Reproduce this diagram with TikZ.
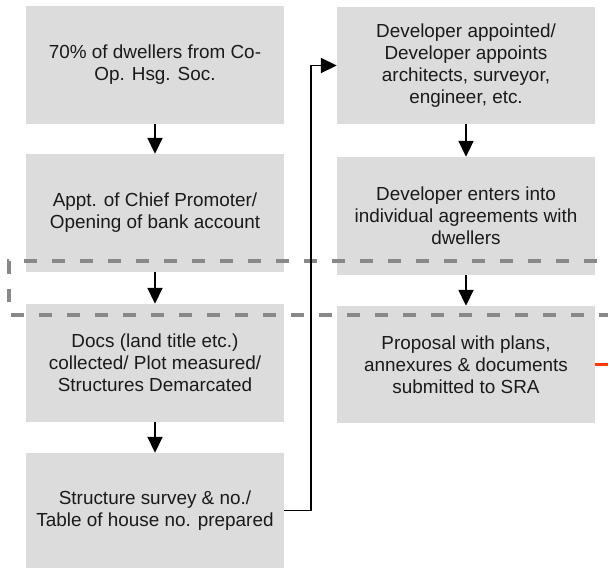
\documentclass[tikz,border=0pt]{standalone}
\usepackage{fontspec}
\setmainfont{Liberation Sans}
\usetikzlibrary{arrows.meta}
\definecolor{boxgray}{HTML}{DCDCDC}
\definecolor{txtcol}{HTML}{1A1A1A}
\definecolor{dashgray}{HTML}{888888}
\definecolor{redline}{RGB}{255,60,0}
\begin{document}
\begin{tikzpicture}[x=1pt,y=-1pt,
  stepbox/.style={fill=boxgray, draw=none, text=txtcol, align=center,
    minimum width=258pt, minimum height=118pt, inner sep=0pt,
    font=\fontsize{18.9}{22}\selectfont},
  flow/.style={line width=1.8pt, -{Triangle[length=16pt,width=15pt]}},
  sect/.style={draw=dashgray, line width=4pt, dash pattern=on 13pt off 15pt, dash phase=17pt},
  redconn/.style={draw=redline, line width=3.5pt}]
\useasboundingbox[fill=white] (0,0) rectangle (608,570);
% left column
\node[stepbox] (L1) at (155,65) {70\% of dwellers from Co-\\Op. Hsg. Soc.};
\node[stepbox] (L2) at (155,213) {Appt. of Chief Promoter/\\Opening of bank account};
\node[stepbox] (L3) at (155,363) {Docs (land title etc.)\\collected/ Plot measured/\\Structures Demarcated};
\node[stepbox, minimum height=115pt] (L4) at (155,510.5) {Structure survey \& no./\\Table of house no. prepared};
% right column
\node[stepbox, minimum height=117pt] (R1) at (466,65.5) {Developer appointed/\\Developer appoints\\architects, surveyor,\\engineer, etc.};
\node[stepbox] (R2) at (466,216) {Developer enters into\\individual agreements with\\dwellers};
\node[stepbox, minimum height=117pt] (R3) at (466,364.5) {Proposal with plans,\\annexures \& documents\\submitted to SRA};
% dashed section boundary
\coordinate (dA) at (608,261);
\coordinate (dB) at (9,261);
\coordinate (dC) at (9,315);
\coordinate (dD) at (608,315);
\draw[sect] (dA) -- (dB) -- (dC) -- (dD);
% connectors
\draw[flow] (L1) -- (L2);
\draw[flow] (L2) -- (L3);
\draw[flow] (L3) -- (L4);
\draw[flow] (R1) -- (R2);
\draw[flow] (R2) -- (R3);
\draw[flow] (L4.east) -- ++(27,0) |- (R1.west);
\coordinate (redend) at (608,364.5);
\draw[redconn] (R3.east) -- (redend);
\end{tikzpicture}
\end{document}
